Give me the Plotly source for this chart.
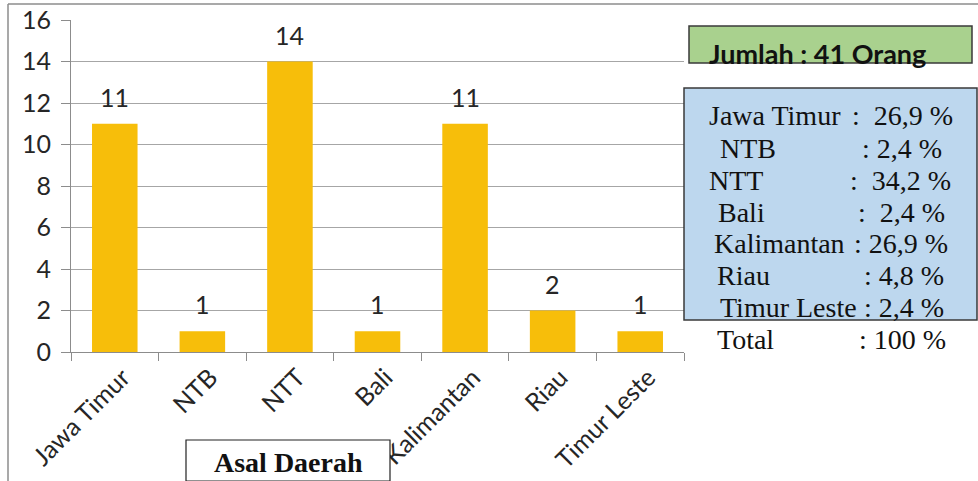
import plotly.graph_objects as go

categories = ["Jawa Timur", "NTB", "NTT", "Bali", "Kalimantan", "Riau", "Timur Leste"]
counts = [11, 1, 14, 1, 11, 2, 1]
y_ticks = [0, 2, 4, 6, 8, 10, 12, 14, 16]

summary_title = "Jumlah : 41 Orang"
pct_names = ["Jawa Timur", "NTB", "NTT", "Bali", "Kalimantan", "Riau", "Timur Leste", "Total"]
pct_values = [":\u00a0\u00a026,9 %", ": 2,4 %", ":\u00a0\u00a034,2 %", ":\u00a0\u00a02,4 %",
              ": 26,9 %", ": 4,8 %", ": 2,4 %", ": 100 %"]
axis_title = "Asal Daerah"

W, H = 978, 481
L, R, T, B = 71, 684, 20, 352


def px(x):
    return (x - L) / (R - L)


def py(y):
    return (B - y) / (B - T)


fig = go.Figure()
fig.add_trace(go.Bar(
    x=categories, y=counts, width=0.52,
    marker=dict(color="#F7BE0A", line=dict(width=0)),
    showlegend=False, hoverinfo="skip",
))

annotations = []
for c, v in zip(categories, counts):
    annotations.append(dict(x=c, y=v, xref="x", yref="y", text=str(v), showarrow=False,
                            yanchor="middle", yshift=27,
                            font=dict(family="Lato", size=25, color="#262626")))

# summary box text
annotations.append(dict(x=px(707), y=py(53), xref="paper", yref="paper", text="<b>" + summary_title + "</b>",
                        showarrow=False, xanchor="left", yanchor="middle",
                        font=dict(family="Lato", size=27, color="#111111")))

name_x = [707, 718, 707, 716, 712, 715, 718, 715]
val_x = [955, 944, 953, 947, 950, 946, 946, 948]
line_y = [115, 148, 180, 212, 243, 275, 307, 339]
for n, v, nx, vx, ly in zip(pct_names, pct_values, name_x, val_x, line_y):
    annotations.append(dict(x=px(nx), y=py(ly), xref="paper", yref="paper", text=n, showarrow=False,
                            xanchor="left", yanchor="middle",
                            font=dict(family="Liberation Serif", size=28, color="#111111")))
    annotations.append(dict(x=px(vx), y=py(ly), xref="paper", yref="paper", text=v, showarrow=False,
                            xanchor="right", yanchor="middle",
                            font=dict(family="Liberation Serif", size=28, color="#111111")))

annotations.append(dict(x=px(288), y=py(462), xref="paper", yref="paper", text="<b>" + axis_title + "</b>",
                        showarrow=False, xanchor="center", yanchor="middle",
                        font=dict(family="Liberation Serif", size=28, color="#111111")))

shapes = [
    # outer frame
    dict(type="line", xref="paper", yref="paper", x0=px(8), x1=px(978), y0=py(4), y1=py(4),
         line=dict(color="#8C8C8C", width=1.5), layer="above"),
    dict(type="line", xref="paper", yref="paper", x0=px(8), x1=px(8), y0=py(4), y1=py(481),
         line=dict(color="#8C8C8C", width=1.5), layer="above"),
    # green box
    dict(type="rect", xref="paper", yref="paper", x0=px(689), x1=px(972), y0=py(26), y1=py(63),
         fillcolor="#A9D18E", line=dict(color="#3A3A3A", width=1.5), layer="above"),
    # blue box
    dict(type="rect", xref="paper", yref="paper", x0=px(684), x1=px(977), y0=py(88), y1=py(320),
         fillcolor="#BDD7EE", line=dict(color="#3A3A3A", width=1.5), layer="above"),
    # axis title box
    dict(type="rect", xref="paper", yref="paper", x0=px(186), x1=px(390), y0=py(440), y1=py(481),
         fillcolor="white", line=dict(color="#222222", width=1.2), layer="above"),
]

fig.update_layout(
    width=W, height=H,
    margin=dict(l=L, r=W - R, t=T, b=H - B, pad=0, autoexpand=False),
    paper_bgcolor="white", plot_bgcolor="white",
    bargap=0.48,
    annotations=annotations, shapes=shapes,
    xaxis=dict(
        type="category", tickangle=-45, ticks="outside", tickson="boundaries",
        ticklen=8, tickcolor="#8C8C8C", showline=True, linecolor="#8C8C8C", linewidth=1,
        showgrid=False, tickfont=dict(family="Lato", size=25, color="#262626"),
        ticklabelstandoff=0, ticklabelshift=8, automargin=False,
        fixedrange=True,
    ),
    yaxis=dict(
        range=[0, 16], tickvals=y_ticks, ticks="outside", ticklen=9, tickcolor="#8C8C8C",
        showline=True, linecolor="#8C8C8C", linewidth=1,
        showgrid=True, gridcolor="#A6A6A6", gridwidth=1, zeroline=False,
        tickfont=dict(family="Lato", size=25, color="#262626"),
        ticklabelstandoff=5, automargin=False,
        fixedrange=True,
    ),
)

fig.write_html("out.html")
